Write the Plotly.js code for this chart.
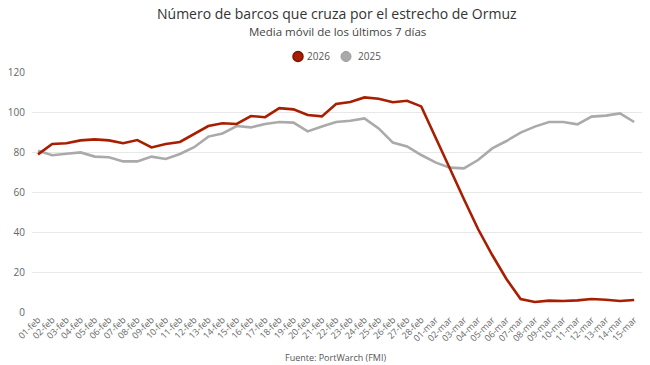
<!DOCTYPE html>
<html><head><meta charset="utf-8">
<script src="https://cdn.plot.ly/plotly-3.0.1.min.js"></script>
<style>html,body{margin:0;padding:0;background:#fff}#chart{width:650px;height:365px}</style>
</head><body><div id="chart"></div>
<script>
const days = [
 "01-feb","02-feb","03-feb","04-feb","05-feb","06-feb","07-feb","08-feb","09-feb","10-feb",
 "11-feb","12-feb","13-feb","14-feb","15-feb","16-feb","17-feb","18-feb","19-feb","20-feb",
 "21-feb","22-feb","23-feb","24-feb","25-feb","26-feb","27-feb","28-feb",
 "01-mar","02-mar","03-mar","04-mar","05-mar","06-mar","07-mar","08-mar","09-mar","10-mar",
 "11-mar","12-mar","13-mar","14-mar","15-mar"];
const y2026 = [
 78.8,84,84.4,85.8,86.3,85.8,84.4,86,82.3,84,
 85,89,93,94.4,94,98,97.4,101.9,101.3,98.5,
 97.8,104,105,107.3,106.6,104.9,105.6,102.8,
 87,72,56.5,41.5,28.5,16.5,6.5,5,5.7,5.5,
 5.8,6.5,6.1,5.5,6];
const y2025 = [
 80.6,78.4,79.1,79.8,77.7,77.4,75.3,75.3,77.7,76.5,
 79,82.4,87.7,89.3,93,92.3,94,95,94.7,90.3,
 92.7,95,95.6,96.8,91.8,84.7,82.8,78.5,
 74.8,72.2,71.8,76,81.8,85.5,89.7,92.7,95,95,
 93.8,97.7,98.2,99.3,95];
const names = ["2026","2025"];
const colors = ["#a81e00","#aaaaaa"];

const traces = [
 {x: days, y: y2025, type:"scatter", mode:"lines", name:names[1], showlegend:false,
  line:{color:colors[1], width:2.6}},
 {x: days, y: y2026, type:"scatter", mode:"lines", name:names[0], showlegend:false,
  line:{color:colors[0], width:2.6}},
 {x:[null], y:[null], type:"scatter", mode:"markers", name:" ", legend:"legend",
  marker:{color:colors[0], size:10, line:{color:"#7a1400", width:1.5}}},
 {x:[null], y:[null], type:"scatter", mode:"markers", name:" ", legend:"legend2",
  marker:{color:colors[1], size:10, line:{color:"#999999", width:1}}}
];

const plotH = 240, plotTop = 72;
const py = px => (plotTop + plotH - px) / plotH;
const pxX = px => (px - 32) / 610;

const legendCommon = {orientation:"h", xanchor:"left", yref:"container", y:1-56.5/365, yanchor:"middle",
   font:{size:10, color:"#555"}, itemwidth:30, bgcolor:"rgba(0,0,0,0)"};

const legendLabel = (txt, xpx) => ({text:txt, xref:"paper", yref:"paper", x:pxX(xpx), y:py(56.5),
   xanchor:"left", yanchor:"middle", showarrow:false, font:{size:10, color:"#555"}});

const layout = {
 width:650, height:365,
 margin:{l:32, r:8, t:72, b:53},
 paper_bgcolor:"#fff", plot_bgcolor:"#fff",
 font:{family:"Open Sans, sans-serif", color:"#666"},
 showlegend:true,
 legend:Object.assign({}, legendCommon, {xref:"container", x:278/650}),
 legend2:Object.assign({}, legendCommon, {xref:"container", x:326/650}),
 xaxis:{type:"category", range:[-0.42,42.55], tickangle:-45, tickfont:{size:9, color:"#666"},
   showgrid:false, zeroline:false, showline:false, ticks:"", automargin:false},
 yaxis:{range:[0,120], tickvals:[0,20,40,60,80,100,120], tickfont:{size:10, color:"#666"},
   gridcolor:"#e8e8e8", gridwidth:1, zeroline:false, showline:false, ticks:"", automargin:false,
   ticklabelstandoff:6},
 annotations:[
  {text:"Número de barcos que cruza por el estrecho de Ormuz", xref:"paper", yref:"paper",
   x:0.5, y:py(13), xanchor:"center", yanchor:"middle", showarrow:false,
   font:{size:14, color:"#333"}},
  {text:"Media móvil de los últimos 7 días", xref:"paper", yref:"paper",
   x:0.5, y:py(31.5), xanchor:"center", yanchor:"middle", showarrow:false,
   font:{size:11.5, color:"#444"}},
  legendLabel(names[0], 305),
  legendLabel(names[1], 356),
  {text:"Fuente: PortWarch (FMI)", xref:"paper", yref:"paper",
   x:pxX(335), y:py(357), xanchor:"center", yanchor:"middle", showarrow:false,
   font:{size:9, color:"#555"}}
 ]
};
Plotly.newPlot("chart", traces, layout, {displayModeBar:false, staticPlot:true});
</script></body></html>
